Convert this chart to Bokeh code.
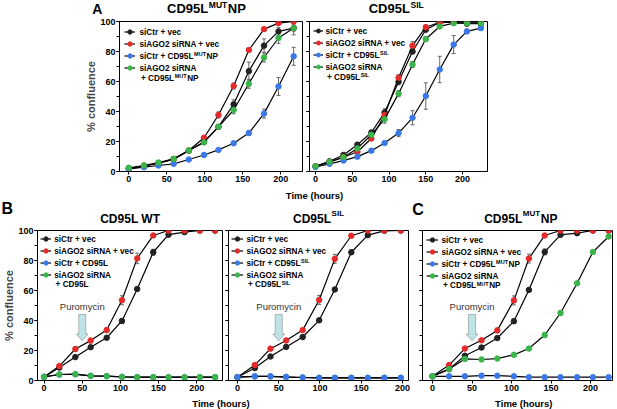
from bokeh.plotting import figure
from bokeh.layouts import column, row
from bokeh.models import (Range1d, SingleIntervalTicker, Label, Legend, LegendItem,
                          Whisker, TeeHead, ColumnDataSource, PolyAnnotation)
from bokeh.embed import file_html
from bokeh.resources import INLINE

FONT = "Liberation Sans"
PAGE_W = 617

# ---------------- data ----------------
# Panel A, left: CD95L MUT NP
xA1 = [0, 20, 39, 59, 79, 99, 118, 138, 158, 178, 197, 217]
blkA1 = [1.8, 3.5, 5.5, 8.4, 13.9, 19.9, 29.8, 44.8, 66.9, 83.9, 93.4, 95.6]
redA1 = [2.0, 4.0, 5.5, 8.0, 14.0, 22.5, 37.7, 57.0, 81.0, 94.9, 98.9, 100.0]
bluA1 = [1.8, 2.9, 4.0, 5.1, 8.0, 11.0, 14.4, 18.8, 25.6, 38.6, 56.7, 76.8]
grnA1 = [2.5, 4.0, 6.0, 8.4, 14.0, 19.4, 29.8, 41.0, 58.5, 76.0, 89.0, 95.6]
eBlkA1 = [0.3, 0.3, 0.3, 0.5, 1.0, 1.0, 1.5, 3.0, 6.0, 4.5, 2.5, 2.0]
eRedA1 = [0.3, 0.3, 0.3, 0.5, 0.8, 1.0, 2.0, 2.0, 1.0, 1.0, 1.0, 1.5]
eBluA1 = [0.3, 0.3, 0.3, 0.3, 0.5, 0.5, 0.5, 0.8, 1.5, 3.0, 6.0, 6.0]
eGrnA1 = [0.3, 0.3, 0.3, 0.5, 0.8, 1.0, 1.0, 2.5, 3.0, 3.0, 3.5, 4.5]

# Panel A, right: CD95L SIL
xA2 = [0, 19, 38, 57, 76, 94, 113, 132, 150, 169, 188, 206, 225]
blkA2 = [3.5, 6.8, 11.0, 17.9, 26.0, 39.3, 59.8, 80.0, 94.5, 99.3, 99.5, 98.5, 98.5]
redA2 = [3.5, 6.2, 9.5, 13.2, 22.0, 37.7, 62.5, 83.9, 96.2, 99.5, 99.7, 99.7, 99.5]
bluA2 = [3.0, 5.1, 7.3, 9.9, 13.9, 19.0, 25.6, 35.8, 50.3, 68.0, 84.6, 93.4, 95.6]
grnA2 = [3.5, 6.5, 9.5, 15.4, 24.5, 34.9, 51.9, 71.3, 88.3, 96.7, 98.9, 98.9, 98.9]
eBlkA2 = [0.3, 0.5, 0.5, 1.0, 1.5, 2.5, 2.0, 1.5, 1.0, 0.5, 0.5, 1.0, 1.0]
eRedA2 = [0.3, 0.5, 0.5, 0.5, 1.0, 1.5, 2.0, 2.7, 1.5, 0.5, 0.5, 0.5, 0.5]
eBluA2 = [0.3, 0.3, 0.5, 0.5, 0.5, 1.0, 2.4, 4.7, 8.8, 8.8, 6.0, 1.5, 1.5]
eGrnA2 = [0.3, 0.5, 0.5, 1.0, 1.0, 2.7, 2.0, 2.0, 1.5, 1.0, 0.5, 0.5, 0.5]

# Panel B, left: CD95L WT
xB1 = [0, 20, 41, 61, 82, 102, 122, 143, 163, 184, 204, 224]
blkB1 = [2.4, 8.6, 15.6, 22.2, 28.5, 39.7, 61.0, 85.5, 97.2, 98.9, 100.0, 100.0]
redB1 = [2.4, 9.6, 21.0, 26.6, 33.6, 53.5, 81.4, 96.7, 100.0, 100.0, 100.0, 100.0]
bluB1 = [2.4, 4.0, 4.1, 3.1, 2.9, 2.4, 2.2, 2.2, 2.2, 2.2, 2.2, 2.2]
grnB1 = [2.4, 4.0, 4.2, 3.1, 2.9, 2.4, 2.2, 2.2, 2.2, 2.2, 2.2, 2.2]
eBlkB1 = [0.3, 0.5, 0.5, 0.5, 0.5, 1.5, 0.5, 2.0, 0.5, 0.5, 0.3, 0.3]
eRedB1 = [0.3, 1.0, 1.5, 1.5, 1.5, 3.0, 3.5, 1.0, 0.3, 0.3, 0.3, 0.3]
eBluB1 = [0.2, 0.2, 0.2, 0.2, 0.2, 0.2, 0.2, 0.2, 0.2, 0.2, 0.2, 0.2]
eGrnB1 = [0.2, 0.3, 0.3, 0.2, 0.2, 0.2, 0.2, 0.2, 0.2, 0.2, 0.2, 0.2]

# Panel B, right: CD95L SIL
xB2 = [0, 21, 40, 59, 79, 99, 118, 138, 158, 178, 198]
blkB2 = [2.2, 8.3, 16.0, 22.4, 29.0, 40.1, 60.7, 85.5, 96.9, 99.8, 100.0]
redB2 = [2.2, 10.3, 21.2, 26.7, 33.6, 53.7, 81.1, 96.5, 100.0, 100.0, 100.0]
bluB2 = [2.2, 2.8, 2.8, 2.4, 2.0, 1.8, 1.8, 1.8, 1.8, 1.8, 1.8]
grnB2 = [2.2, 2.7, 2.7, 2.3, 2.0, 1.8, 1.8, 1.8, 1.8, 1.8, 1.8]
eBlkB2 = [0.3, 0.5, 0.5, 0.5, 0.5, 1.0, 0.5, 1.5, 0.5, 0.3, 0.3]
eRedB2 = [0.3, 1.0, 1.0, 1.0, 1.0, 3.0, 3.0, 1.0, 0.3, 0.3, 0.3]
eBluB2 = [0.2, 0.2, 0.2, 0.2, 0.2, 0.2, 0.2, 0.2, 0.2, 0.2, 0.2]
eGrnB2 = [0.2, 0.2, 0.2, 0.2, 0.2, 0.2, 0.2, 0.2, 0.2, 0.2, 0.2]

# Panel C: CD95L MUT NP
xC = [0, 21, 41, 62, 82, 103, 122, 142, 162, 183, 203, 223]
blkC = [2.8, 7.6, 16.5, 22.0, 28.3, 39.5, 60.4, 85.7, 97.1, 98.2, 100.0, 100.0]
redC = [2.8, 10.3, 21.3, 26.8, 33.4, 53.4, 81.3, 96.7, 100.0, 100.0, 100.0, 100.0]
bluC = [2.8, 2.8, 2.8, 3.2, 3.2, 2.8, 2.2, 2.2, 2.2, 2.2, 2.2, 2.2]
grnC = [2.8, 7.6, 14.4, 14.0, 14.6, 17.1, 21.3, 30.3, 45.0, 64.8, 85.7, 96.0]
eBlkC = [0.3, 0.5, 0.5, 0.5, 0.5, 1.5, 0.5, 2.0, 0.5, 0.5, 0.3, 0.3]
eRedC = [0.3, 1.0, 1.0, 1.0, 1.5, 3.0, 3.0, 1.0, 0.3, 0.3, 0.3, 0.3]
eBluC = [0.2, 0.2, 0.2, 0.2, 0.2, 0.2, 0.2, 0.2, 0.2, 0.2, 0.2, 0.2]
eGrnC = [0.3, 0.5, 0.8, 0.5, 0.5, 0.8, 1.0, 1.5, 1.5, 1.0, 1.0, 1.0]

PURO_TIME = 50
Y_TICKS = [0, 20, 40, 60, 80, 100]

# ---------------- style ----------------
COL = {"blk": "#222222", "red": "#e32b2b", "blu": "#3b78e7", "grn": "#3bb54a"}
EB = "#666666"
LS = 8.2  # legend font size

BW = {' ': 278, '%': 889, '(': 333, ')': 333, '+': 584, 'A': 722, 'C': 722, 'D': 722,
      'G': 778, 'I': 278, 'L': 611, 'M': 833, 'N': 722, 'O': 778, 'P': 667, 'R': 722,
      'S': 667, 'T': 611, 'U': 722, 'W': 944, 'a': 556, 'c': 556, 'e': 556, 'i': 278,
      'l': 278, 'n': 611, 'o': 611, 'r': 389, 's': 556, 't': 333, 'u': 611, 'v': 556}


def tw(s, size):
    return sum(BW.get(ch, 556) for ch in s) / 1000.0 * size


def make_panel(cx0, cx1, cy0, cy1, fl, fr, ft, fb, xr, ylabels):
    """canvas spans page x cx0..cx1, y cy0..cy1; frame at page fl..fr, ft..fb"""
    p = figure(width=cx1 - cx0, height=cy1 - cy0, x_range=Range1d(*xr),
               y_range=Range1d(0, 100), output_backend="svg", toolbar_location=None,
               title=None, min_border_left=fl - cx0, min_border_right=cx1 - fr,
               min_border_top=ft - cy0, min_border_bottom=cy1 - fb)
    p.border_fill_color = None
    p.background_fill_color = None
    p.outline_line_color = "black"
    p.outline_line_width = 1
    p.grid.visible = False
    p.xaxis.ticker = SingleIntervalTicker(interval=50, num_minor_ticks=0)
    p.yaxis.ticker = SingleIntervalTicker(interval=20, num_minor_ticks=2)
    for ax in (p.xaxis[0], p.yaxis[0]):
        ax.axis_line_color = "black"
        ax.major_tick_out = 3
        ax.major_tick_in = 0
        ax.minor_tick_out = 3
        ax.minor_tick_in = 0
        ax.major_tick_line_color = "black"
        ax.minor_tick_line_color = "black"
        ax.major_label_standoff = 1
        ax.major_label_text_font = FONT
        ax.major_label_text_font_style = "bold"
        ax.major_label_text_font_size = "9px"
        ax.major_label_text_color = "black"
    if ylabels:
        ya = p.yaxis[0]
        ya.axis_label = "% confluence"
        ya.axis_label_text_font = FONT
        ya.axis_label_text_font_style = "bold"
        ya.axis_label_text_font_size = "11px"
        ya.axis_label_standoff = 0
    else:
        p.yaxis.major_label_overrides = {v: "" for v in Y_TICKS}
    return dict(p=p, fl=fl, fr=fr, ft=ft, fb=fb, x0=xr[0], x1=xr[1])


def make_strip(y0, y1):
    p = figure(width=PAGE_W, height=y1 - y0, x_range=Range1d(0, PAGE_W),
               y_range=Range1d(0, 100), output_backend="svg", toolbar_location=None,
               title=None, x_axis_location=None, y_axis_location=None, min_border=0)
    p.border_fill_color = None
    p.background_fill_color = None
    p.outline_line_color = None
    p.grid.visible = False
    return dict(p=p, fl=0, fr=PAGE_W, ft=y0, fb=y1, x0=0, x1=PAGE_W)


def label(pan, px, py, text, size, style="bold", align="left", baseline="alphabetic",
          color="black"):
    # py is the alphabetic baseline unless baseline == "middle"
    if baseline == "alphabetic":
        py = py - 0.3465 * size
    x = pan["x0"] + (px - pan["fl"]) / (pan["fr"] - pan["fl"]) * (pan["x1"] - pan["x0"])
    y = (pan["fb"] - py) / (pan["fb"] - pan["ft"]) * 100.0
    pan["p"].add_layout(Label(x=x, y=y, text=text, text_font=FONT,
                              text_font_size=f"{size}px", text_font_style=style,
                              text_align=align, text_baseline="middle",
                              text_color=color))


def rich(pan, x, base, parts, center=False):
    widths = [tw(t, s) for t, s, r in parts]
    total = sum(widths) + 0.6 * (len(parts) - 1)
    if center:
        x -= total / 2.0
    for (t, s, r), w in zip(parts, widths):
        label(pan, x, base - r, t, s)
        x += w + 0.6


def series(pan, x, y, e, key):
    c = COL[key]
    src = ColumnDataSource(dict(x=x, upper=[a + b for a, b in zip(y, e)],
                                lower=[a - b for a, b in zip(y, e)]))
    wk = Whisker(source=src, base="x", upper="upper", lower="lower", level="underlay",
                 line_color=EB, line_width=1,
                 upper_head=TeeHead(size=4, line_color=EB, line_width=1),
                 lower_head=TeeHead(size=4, line_color=EB, line_width=1))
    pan["p"].add_layout(wk)
    l = pan["p"].line(x, y, line_color="black", line_width=1.2)
    s = pan["p"].scatter(x, y, size=5.5, marker="circle", fill_color=c, line_color=c)
    return [l, s]


def add_legend(pan, rs, pad, gw, stand, sup_parts, line2_dy):
    items = [LegendItem(label=" ", renderers=r) for r in rs]
    lg = Legend(items=items, location="top_left", margin=0, padding=pad, spacing=1,
                glyph_width=gw, glyph_height=11, label_height=11, label_standoff=stand,
                label_width=1, label_text_font=FONT, label_text_font_size=f"{LS}px",
                background_fill_alpha=0, border_line_alpha=0)
    pan["p"].add_layout(lg)
    tx = pan["fl"] + pad + gw + stand
    rows = [pan["ft"] + pad + 5.5 + 12 * k for k in range(4)]
    off = 2.9
    label(pan, tx, rows[0] + off, "siCtr + vec", LS)
    label(pan, tx, rows[1] + off, "siAGO2 siRNA + vec", LS)
    rich(pan, tx, rows[2] + off, [("siCtr + CD95L", LS, 0)] + sup_parts)
    label(pan, tx, rows[3] + off, "siAGO2 siRNA", LS)
    rich(pan, tx + 1.5, rows[3] + line2_dy + off, [("+ CD95L", LS, 0)] + sup_parts)


def puromycin(pan):
    sx = (pan["fr"] - pan["fl"]) / (pan["x1"] - pan["x0"])
    sw, hw = 3.6 / sx, 6.0 / sx
    t = PURO_TIME
    xs = [t - sw, t + sw, t + sw, t + hw, t, t - hw, t - sw]
    ys = [44, 44, 31, 31, 26.5, 31, 31]
    pan["p"].add_layout(PolyAnnotation(xs=xs, ys=ys, fill_color="#bfe2e6", fill_alpha=1,
                                       line_color="#333333", line_width=1))
    pan["p"].add_layout(Label(x=t, y=49.5, text="Puromycin", text_font=FONT,
                              text_font_size="9.5px", text_align="center",
                              text_baseline="middle", text_color="#333333"))


MUT = [("MUT", 5.5, 2.6), ("NP", LS, 0)]
SIL = [("SIL", 5.5, 2.6)]

# ---------------- layout (page pixel geometry) ----------------
# title strip for panel A
TA = make_strip(0, 16)
label(TA, 91.7, 12.9, "A", 14)
rich(TA, 206, 13.0, [("CD95L", 13, 0), ("MUT", 8.5, 5.2), ("NP", 13, 0)], center=True)
rich(TA, 395.7, 13.0, [("CD95L", 13, 0), ("SIL", 8.5, 5.2)], center=True)

A1 = make_panel(0, 305, 16, 187, 119, 302, 21, 171, (-12.2, 228.6), True)
r = {}
r["blk"] = series(A1, xA1, blkA1, eBlkA1, "blk")
r["red"] = series(A1, xA1, redA1, eRedA1, "red")
r["blu"] = series(A1, xA1, bluA1, eBluA1, "blu")
r["grn"] = series(A1, xA1, grnA1, eGrnA1, "grn")
add_legend(A1, [r["blk"], r["red"], r["blu"], r["grn"]], 5, 11, 4, MUT, 10)

A2 = make_panel(305, 617, 16, 187, 309, 487, 21, 171, (-8.2, 234.0), False)
r = {}
r["blk"] = series(A2, xA2, blkA2, eBlkA2, "blk")
r["red"] = series(A2, xA2, redA2, eRedA2, "red")
r["blu"] = series(A2, xA2, bluA2, eBluA2, "blu")
r["grn"] = series(A2, xA2, grnA2, eGrnA2, "grn")
add_legend(A2, [r["blk"], r["red"], r["blu"], r["grn"]], 4, 10, 2, SIL, 10)

# middle strip: x label of A, letters and titles of B / C
TM = make_strip(187, 225)
label(TM, 314, 194.5, "Time (hours)", 9.5, align="center", baseline="middle")
label(TM, 1, 213.3, "B", 16)
label(TM, 411.7, 215, "C", 16)
rich(TM, 129.7, 222.4, [("CD95L WT", 12, 0)], center=True)
rich(TM, 318, 222.4, [("CD95L", 12, 0), ("SIL", 8, 6.3)], center=True)
rich(TM, 520.3, 222.4, [("CD95L", 12, 0), ("MUT", 8, 6.3), ("NP", 12, 0)], center=True)

B1 = make_panel(0, 224, 225, 397, 33, 222, 230, 380, (-8.6, 233.7), True)
r = {}
r["blk"] = series(B1, xB1, blkB1, eBlkB1, "blk")
r["red"] = series(B1, xB1, redB1, eRedB1, "red")
r["blu"] = series(B1, xB1, bluB1, eBluB1, "blu")
r["grn"] = series(B1, xB1, grnB1, eGrnB1, "grn")
add_legend(B1, [r["blk"], r["red"], r["blu"], r["grn"]], 3, 11, 3, [], 9.5)
puromycin(B1)

B2 = make_panel(224, 415, 225, 397, 228, 408, 230, 380, (-10.9, 207.3), False)
r = {}
r["blk"] = series(B2, xB2, blkB2, eBlkB2, "blk")
r["red"] = series(B2, xB2, redB2, eRedB2, "red")
r["grn"] = series(B2, xB2, grnB2, eGrnB2, "grn")
r["blu"] = series(B2, xB2, bluB2, eBluB2, "blu")
add_legend(B2, [r["blk"], r["red"], r["blu"], r["grn"]], 3, 12, 3, SIL, 9.5)
puromycin(B2)

C = make_panel(415, 617, 225, 397, 422, 612, 230, 380, (-12.7, 227.8), False)
r = {}
r["blk"] = series(C, xC, blkC, eBlkC, "blk")
r["red"] = series(C, xC, redC, eRedC, "red")
r["blu"] = series(C, xC, bluC, eBluC, "blu")
r["grn"] = series(C, xC, grnC, eGrnC, "grn")
add_legend(C, [r["blk"], r["red"], r["blu"], r["grn"]], 4, 12, 3, MUT, 9.5)
puromycin(C)

# bottom strip: x labels of B and C
TB = make_strip(397, 409)
label(TB, 220.5, 403, "Time (hours)", 9.5, align="center", baseline="middle")
label(TB, 523.3, 403, "Time (hours)", 9.5, align="center", baseline="middle")

layout = column(TA["p"], row(A1["p"], A2["p"]), TM["p"],
                row(B1["p"], B2["p"], C["p"]), TB["p"])

open("out.html", "w").write(file_html(layout, INLINE, "CD95L confluence"))
